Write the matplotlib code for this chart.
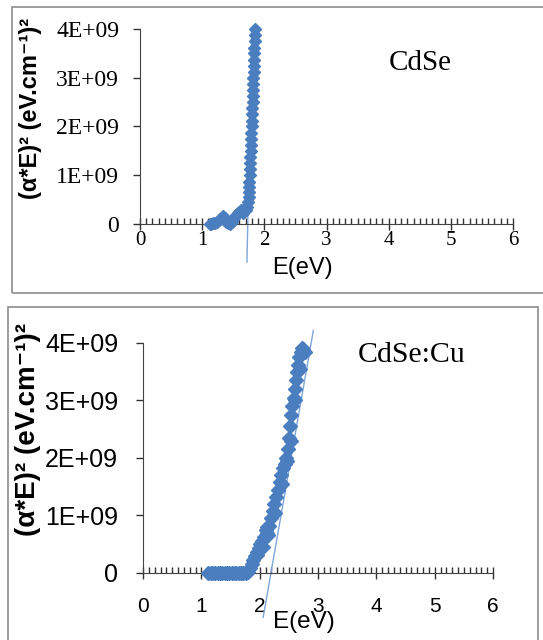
import matplotlib.pyplot as plt
from matplotlib.patches import Rectangle
from matplotlib.ticker import MultipleLocator

# CdSe data: E (eV), (alpha*E)^2 in units of 1E9
e_cdse = [1.12, 1.15, 1.18, 1.21, 1.24, 1.27, 1.30, 1.33, 1.36, 1.39, 1.42, 1.45,
          1.48, 1.51, 1.54, 1.57, 1.60, 1.63, 1.66, 1.68, 1.70, 1.72,
          1.745, 1.75, 1.752, 1.755, 1.76, 1.765, 1.77, 1.772, 1.775, 1.78,
          1.785, 1.79, 1.792, 1.795, 1.80, 1.803, 1.806, 1.81, 1.813, 1.816,
          1.82, 1.823, 1.826, 1.83, 1.833, 1.836, 1.84, 1.843, 1.846, 1.85]
y_cdse = [0.0, 0.0, 0.02, 0.03, 0.05, 0.08, 0.12, 0.16, 0.12, 0.05, 0.02, 0.0,
          0.05, 0.12, 0.18, 0.22, 0.25, 0.28, 0.22, 0.30, 0.28, 0.35,
          0.45, 0.55, 0.65, 0.75, 0.87, 1.0, 1.12, 1.25, 1.37, 1.5,
          1.62, 1.75, 1.87, 2.0, 2.12, 2.25, 2.37, 2.5, 2.62, 2.75,
          2.87, 3.0, 3.12, 3.25, 3.37, 3.5, 3.62, 3.75, 3.87, 4.0]
fit_cdse_x = [1.72, 1.80]
fit_cdse_y = [-0.78, 4.0]

# CdSe:Cu data
e_cu = [1.12, 1.16, 1.20, 1.24, 1.28, 1.32, 1.36, 1.40, 1.44, 1.48, 1.52, 1.56,
        1.60, 1.64, 1.68, 1.72, 1.76, 1.78,
        1.80, 1.83, 1.86, 1.89, 1.92, 1.95, 1.98, 2.01, 2.04, 2.07, 2.10, 2.12,
        2.13, 2.16, 2.19, 2.22, 2.25, 2.28, 2.31, 2.34, 2.37, 2.40, 2.43, 2.45,
        2.47, 2.48, 2.50, 2.52, 2.54, 2.56, 2.58, 2.60, 2.62, 2.64, 2.66, 2.68,
        2.70, 2.72, 2.75, 2.78,
        1.96, 2.05, 2.15, 2.27, 2.38, 2.53, 2.61, 2.69]
y_cu = [0.0, 0.0, 0.0, 0.0, 0.0, 0.0, 0.0, 0.0, 0.0, 0.0, 0.0, 0.0,
        0.0, 0.0, 0.0, 0.0, 0.0, 0.01,
        0.02, 0.08, 0.15, 0.22, 0.30, 0.37, 0.43, 0.50, 0.55, 0.62, 0.75, 0.80,
        0.70, 0.82, 0.95, 1.08, 1.20, 1.32, 1.45, 1.58, 1.70, 1.82, 1.90, 2.00,
        1.95, 2.15, 2.35, 2.55, 2.75, 2.90, 3.05, 3.20, 3.35, 3.50, 3.62, 3.75,
        3.85, 3.92, 3.90, 3.85,
        0.32, 0.45, 0.66, 1.05, 1.55, 2.30, 3.00, 3.55]
fit_cu_x = [2.06, 2.92]
fit_cu_y = [-0.77, 4.22]

yticks = [0, 1, 2, 3, 4]
ytick_labels = ['0', '1E+09', '2E+09', '3E+09', '4E+09']
xticks = [0, 1, 2, 3, 4, 5, 6]

blue = '#4a7ebf'
line_blue = '#7ea6d8'
ylabel = '(α*E)² (eV.cm⁻¹)²'
sans = ['Liberation Sans', 'DejaVu Sans']

fig = plt.figure(figsize=(5.43, 6.40), dpi=100)

# panel frames
fig.patches.append(Rectangle((12 / 543, 1 - 293 / 640), 540 / 543, 286 / 640,
                             transform=fig.transFigure, fill=False,
                             edgecolor='#8c8c8c', linewidth=1.2))
fig.patches.append(Rectangle((8 / 543, -0.05), 530 / 543, 1 - 307 / 640 + 0.05,
                             transform=fig.transFigure, fill=False,
                             edgecolor='#8c8c8c', linewidth=1.2))


def setup(ax, tickfont, xsize, ysize, xpad, ypad):
    ax.set_xlim(0, 6)
    ax.set_ylim(0, 4)
    for s in ['top', 'right']:
        ax.spines[s].set_visible(False)
    ax.spines['left'].set_color('#444444')
    ax.spines['bottom'].set_color('#444444')
    ax.set_xticks(xticks)
    ax.set_xticklabels([str(x) for x in xticks], family=tickfont, fontsize=xsize)
    ax.set_yticks(yticks)
    ax.set_yticklabels(ytick_labels, family=tickfont, fontsize=ysize)
    ax.xaxis.set_minor_locator(MultipleLocator(0.1))
    ax.tick_params(axis='x', which='major', direction='inout', length=8, width=1,
                   pad=xpad, color='#333333')
    ax.tick_params(axis='x', which='minor', direction='in', length=4.5, width=1,
                   color='#333333')
    ax.tick_params(axis='y', which='major', direction='out', length=5, width=1,
                   pad=ypad, color='#333333')


# top panel: CdSe
ax1 = fig.add_axes([0.2578, 0.65, 0.687, 0.3047])
setup(ax1, 'Liberation Serif', 15, 17, 1, 10)
ax1.plot(fit_cdse_x, fit_cdse_y, color=line_blue, linewidth=1, clip_on=False, zorder=2)
ax1.plot(e_cdse, y_cdse, linestyle='none', marker='D', markersize=6,
         color=blue, clip_on=False, zorder=3)
fig.text(420 / 543, 1 - 63 / 640, 'CdSe', family='Liberation Serif',
         fontsize=21, ha='center', va='center')
fig.text(302 / 543, 1 - 268 / 640, 'E(eV)', family=sans,
         fontsize=17, ha='center', va='center')
fig.text(31 / 543, 1 - 108 / 640, ylabel, family=sans,
         fontsize=17, fontweight='bold', rotation=90, ha='center', va='center')

# bottom panel: CdSe:Cu
ax2 = fig.add_axes([0.2634, 0.1047, 0.6446, 0.3594])
setup(ax2, 'Liberation Sans', 15, 18, 13, 13)
ax2.plot(fit_cu_x, fit_cu_y, color=line_blue, linewidth=1, clip_on=False, zorder=2)
ax2.plot(e_cu, y_cu, linestyle='none', marker='D', markersize=7.5,
         color=blue, clip_on=False, zorder=3)
fig.text(412 / 543, 1 - 355 / 640, 'CdSe:Cu', family='Liberation Serif',
         fontsize=21.5, ha='center', va='center')
fig.text(304 / 543, 1 - 622 / 640, 'E(eV)', family=sans,
         fontsize=17.5, ha='center', va='center')
fig.text(28 / 543, 1 - 429 / 640, ylabel, family=sans,
         fontsize=20, fontweight='bold', rotation=90, ha='center', va='center')

fig.savefig('out.png', dpi=100)
